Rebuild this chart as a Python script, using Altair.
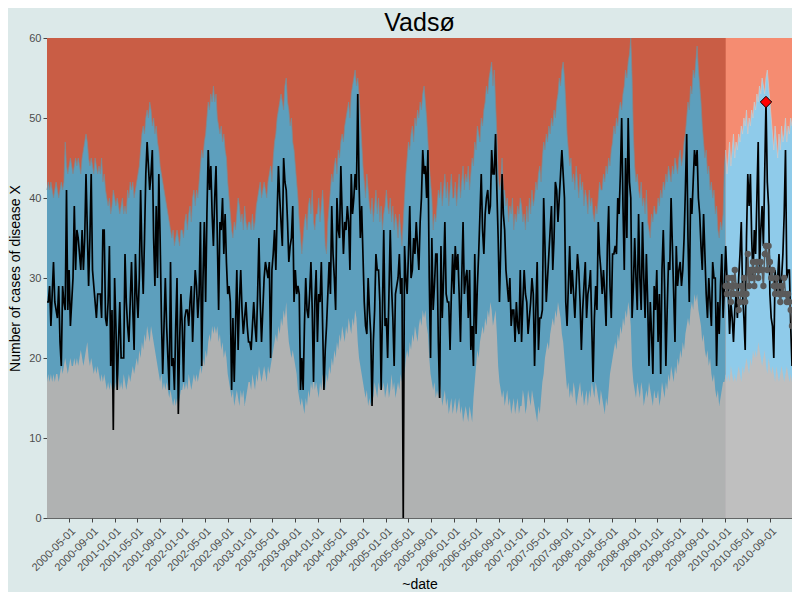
import altair as alt
import pandas as pd

# weekly counts, one line per year (2000 ... 2010)
cases = [
    27, 27, 29, 24, 28, 32, 27, 26, 25, 29, 22, 19, 29, 27, 26, 41, 26, 31, 24, 27, 30, 39, 31, 36, 35, 33, 31, 36, 31, 35, 43, 36, 29, 35, 43, 31, 29, 27, 25, 28, 28, 28, 25, 36, 36, 25, 24, 27, 34, 19, 26, 11,
    30, 24, 16, 22, 27, 20, 20, 20, 33, 27, 24, 22, 27, 32, 26, 21, 33, 28, 25, 30, 41, 33, 28, 35, 43, 47, 44, 41, 43, 46, 35, 29, 39, 30, 43, 35, 25, 18, 24, 30, 24, 20, 16, 32, 19, 20, 16, 24, 30, 13, 22, 28,
    24, 17, 25, 26, 26, 24, 27, 29, 22, 27, 31, 29, 25, 28, 37, 19, 30, 37, 27, 38, 46, 41, 44, 38, 34, 40, 44, 35, 26, 37, 36, 40, 33, 38, 32, 28, 29, 27, 16, 25, 17, 24, 31, 21, 27, 31, 26, 23, 25, 27, 24, 22,
    22, 21, 24, 27, 24, 22, 28, 35, 27, 22, 26, 30, 32, 31, 30, 32, 20, 31, 33, 36, 31, 38, 44, 40, 37, 34, 45, 42, 41, 37, 32, 34, 35, 39, 27, 31, 28, 29, 28, 16, 20, 16, 24, 30, 26, 25, 28, 32, 26, 17, 27, 31,
    22, 28, 27, 32, 24, 16, 21, 24, 28, 32, 28, 39, 33, 30, 26, 40, 36, 35, 44, 38, 33, 37, 36, 39, 37, 31, 43, 38, 40, 43, 41, 53, 42, 35, 39, 33, 27, 24, 23, 30, 26, 23, 14, 22, 26, 33, 31, 31, 27, 16, 26, 36, 24,
    25, 20, 28, 36, 29, 25, 19, 28, 29, 30, 33, 28, 30, 0, 34, 30, 28, 33, 39, 30, 31, 35, 33, 37, 34, 31, 37, 40, 46, 43, 44, 40, 46, 30, 20, 35, 26, 29, 33, 33, 22, 15, 34, 25, 30, 37, 28, 27, 27, 21, 28, 33,
    28, 34, 31, 33, 28, 22, 30, 37, 28, 30, 31, 25, 31, 21, 24, 19, 33, 23, 29, 33, 38, 43, 36, 33, 38, 40, 41, 38, 39, 46, 43, 43, 48, 41, 35, 27, 34, 43, 38, 36, 31, 29, 27, 30, 24, 26, 26, 22, 27, 24, 23, 31,
    22, 27, 31, 28, 27, 23, 25, 27, 30, 28, 19, 26, 32, 21, 25, 25, 26, 40, 34, 27, 30, 33, 36, 39, 31, 35, 42, 41, 37, 40, 43, 46, 43, 40, 27, 24, 29, 34, 28, 31, 28, 25, 29, 33, 31, 27, 21, 26, 29, 32, 25, 28,
    29, 31, 24, 17, 25, 29, 26, 37, 33, 31, 28, 31, 28, 24, 34, 39, 29, 25, 33, 33, 34, 33, 40, 38, 43, 50, 39, 31, 45, 35, 50, 42, 40, 25, 29, 35, 30, 26, 38, 30, 26, 37, 30, 25, 33, 27, 19, 27, 23, 18, 29, 26,
    31, 22, 28, 18, 31, 36, 29, 19, 26, 32, 31, 40, 34, 28, 22, 34, 29, 31, 32, 29, 31, 35, 41, 48, 35, 27, 40, 38, 42, 46, 44, 46, 40, 38, 34, 31, 38, 33, 28, 25, 30, 27, 24, 32, 30, 30, 19, 27, 23, 29, 33, 25,
    29, 34, 30, 28, 23, 27, 25, 22, 26, 28, 25, 30, 33, 37, 28, 25, 21, 35, 43, 39, 43, 35, 30, 36, 33, 40, 47, 31, 36, 39, 34, 43, 52, 42, 39, 28, 25, 24, 20, 31, 28, 30, 33, 27, 30, 33, 38, 46, 30, 31, 31, 24, 19,
]

# upper threshold (top of the blue band)
upper = [
    41, 42, 41, 42, 41, 40, 41, 42, 41, 40, 41, 42, 41, 42, 47, 44, 43, 44, 45, 44, 43, 44, 45, 44, 45, 44, 43, 45, 46, 47, 48, 47, 45, 44, 45, 44, 43, 45, 44, 43, 44, 43, 45, 42, 43, 41, 40, 39, 40, 38, 39, 41,
    40, 39, 40, 39, 38, 39, 40, 38, 39, 38, 41, 40, 42, 41, 42, 40, 41, 42, 43, 44, 46, 48, 49, 48, 50, 51, 50, 52, 51, 49, 50, 48, 49, 47, 46, 44, 43, 42, 41, 40, 39, 38, 37, 36, 35, 36, 34, 35, 36, 35, 34, 36,
    36, 35, 37, 38, 36, 38, 39, 37, 40, 41, 39, 41, 40, 42, 44, 46, 45, 47, 48, 50, 52, 51, 53, 52, 54, 52, 53, 50, 49, 48, 49, 47, 48, 46, 45, 42, 40, 38, 36, 35, 37, 36, 38, 40, 39, 37, 38, 36, 39, 37, 36, 37,
    37, 36, 38, 36, 37, 39, 40, 41, 42, 40, 41, 42, 41, 40, 42, 43, 44, 42, 45, 47, 48, 50, 51, 52, 53, 52, 51, 54, 55, 52, 51, 49, 50, 47, 46, 44, 42, 40, 37, 35, 33, 35, 37, 38, 36, 39, 40, 38, 41, 37, 36, 38,
    38, 40, 37, 39, 41, 38, 34, 33, 37, 39, 41, 43, 42, 44, 45, 43, 46, 45, 47, 48, 47, 49, 50, 51, 52, 50, 53, 54, 55, 56, 54, 55, 53, 50, 47, 44, 42, 40, 43, 41, 39, 38, 40, 37, 39, 41, 38, 40, 37, 39, 36, 38, 39,
    41, 39, 38, 40, 37, 39, 36, 38, 37, 35, 38, 36, 34, 37, 40, 43, 45, 47, 46, 48, 49, 47, 50, 49, 51, 50, 52, 51, 53, 54, 52, 50, 47, 44, 42, 40, 36, 38, 37, 39, 41, 40, 42, 39, 41, 43, 40, 42, 39, 41, 43, 40,
    40, 42, 39, 41, 43, 40, 42, 44, 41, 43, 42, 44, 41, 43, 45, 44, 47, 46, 49, 48, 47, 50, 49, 51, 52, 54, 53, 55, 56, 57, 54, 56, 52, 48, 43, 41, 42, 45, 41, 41, 39, 40, 37, 39, 38, 40, 36, 38, 37, 39, 38, 40,
    39, 37, 38, 36, 39, 37, 40, 38, 41, 39, 40, 42, 41, 43, 44, 42, 45, 47, 46, 48, 47, 49, 48, 50, 49, 51, 50, 52, 53, 55, 54, 56, 57, 55, 52, 48, 46, 44, 45, 42, 43, 41, 44, 42, 40, 43, 41, 42, 39, 41, 40, 38,
    41, 39, 40, 38, 37, 39, 38, 40, 42, 41, 41, 43, 42, 44, 43, 45, 44, 46, 47, 49, 48, 50, 49, 51, 52, 51, 53, 54, 56, 55, 57, 58, 60, 55, 48, 44, 42, 43, 41, 40, 42, 39, 40, 38, 41, 37, 36, 35, 38, 37, 39, 38,
    38, 40, 39, 41, 40, 42, 41, 43, 42, 44, 43, 42, 44, 43, 45, 44, 43, 45, 46, 44, 45, 47, 48, 50, 52, 51, 54, 53, 56, 55, 57, 59, 56, 54, 52, 49, 47, 45, 46, 43, 44, 41, 42, 40, 41, 38, 39, 36, 35, 37, 36, 38,
    44, 46, 43, 45, 47, 44, 46, 48, 45, 47, 46, 48, 47, 49, 48, 50, 49, 51, 48, 50, 49, 51, 50, 52, 51, 53, 52, 54, 53, 55, 54, 53, 55, 56, 54, 52, 50, 48, 46, 49, 47, 45, 48, 46, 49, 47, 48, 50, 47, 49, 48, 50, 49,
]

# lower threshold (top of the grey band)
lower = [
    17, 18, 17, 18, 17, 18, 17, 18, 18, 17, 18, 19, 18, 19, 20, 19, 18, 19, 20, 19, 19, 20, 19, 20, 19, 20, 21, 20, 19, 20, 21, 22, 20, 19, 20, 19, 18, 19, 18, 19, 18, 17, 18, 17, 18, 17, 16, 17, 16, 17, 16, 17,
    16, 17, 16, 18, 16, 17, 16, 18, 17, 16, 17, 18, 17, 18, 19, 18, 19, 20, 19, 21, 20, 22, 21, 23, 22, 24, 23, 22, 24, 23, 22, 21, 20, 19, 18, 17, 18, 16, 17, 16, 17, 16, 15, 16, 15, 14, 15, 14, 15, 14, 15, 16,
    16, 17, 16, 17, 16, 18, 17, 16, 17, 18, 17, 18, 17, 18, 19, 18, 20, 19, 21, 20, 22, 23, 22, 24, 23, 24, 23, 24, 22, 23, 21, 22, 20, 21, 20, 18, 17, 16, 15, 16, 14, 15, 16, 15, 14, 16, 15, 16, 14, 15, 16, 17,
    17, 16, 18, 17, 16, 18, 17, 19, 18, 17, 18, 19, 18, 17, 19, 18, 19, 20, 21, 22, 23, 22, 24, 23, 25, 24, 26, 25, 27, 24, 22, 21, 20, 21, 20, 19, 18, 16, 15, 14, 15, 14, 13, 15, 14, 16, 15, 17, 16, 18, 16, 17,
    16, 15, 17, 16, 18, 17, 16, 18, 17, 19, 18, 20, 19, 21, 20, 22, 21, 23, 22, 24, 23, 22, 24, 23, 25, 24, 23, 25, 24, 26, 25, 22, 20, 19, 18, 17, 16, 15, 16, 14, 15, 14, 16, 15, 17, 16, 15, 17, 16, 18, 16, 17, 15,
    16, 17, 15, 16, 18, 16, 17, 15, 16, 17, 16, 18, 17, 19, 18, 20, 21, 20, 22, 21, 23, 22, 24, 23, 22, 24, 25, 24, 26, 25, 26, 24, 23, 20, 18, 17, 16, 17, 15, 16, 15, 17, 16, 14, 15, 16, 14, 15, 13, 14, 15, 13,
    14, 15, 13, 14, 15, 13, 14, 12, 13, 14, 13, 12, 14, 13, 12, 15, 17, 19, 21, 20, 22, 23, 24, 23, 25, 24, 26, 25, 27, 26, 24, 25, 26, 23, 19, 17, 16, 15, 16, 14, 15, 16, 14, 15, 13, 14, 15, 13, 14, 15, 13, 14,
    14, 16, 15, 13, 14, 16, 15, 14, 16, 15, 14, 13, 12, 14, 13, 15, 17, 18, 20, 21, 22, 21, 23, 24, 25, 24, 26, 25, 27, 26, 25, 23, 22, 20, 18, 16, 17, 15, 16, 15, 17, 16, 14, 15, 16, 17, 15, 16, 14, 15, 16, 14,
    16, 15, 17, 16, 15, 17, 16, 15, 14, 16, 15, 14, 13, 15, 14, 16, 18, 19, 20, 21, 22, 21, 23, 22, 24, 23, 25, 24, 26, 25, 27, 26, 24, 19, 17, 16, 15, 17, 16, 15, 17, 16, 14, 15, 16, 15, 17, 16, 15, 14, 16, 15,
    15, 16, 14, 15, 17, 16, 15, 17, 16, 18, 17, 19, 18, 17, 19, 18, 20, 19, 21, 20, 22, 21, 23, 24, 25, 24, 26, 27, 26, 28, 27, 28, 26, 25, 24, 22, 23, 21, 20, 21, 19, 20, 18, 17, 18, 16, 15, 16, 14, 15, 16, 17,
    17, 18, 17, 18, 17, 19, 18, 17, 18, 17, 18, 19, 18, 17, 19, 18, 19, 20, 19, 18, 20, 19, 21, 20, 21, 20, 22, 21, 20, 19, 20, 21, 19, 18, 20, 19, 18, 19, 18, 17, 19, 18, 17, 18, 19, 18, 17, 18, 19, 18, 17, 18, 17,
]

# expected counts for the current year (grey dots), weeks of 2010
baseline_2010 = [
    29, 28, 30, 29, 27, 30, 28, 31, 29, 28, 26, 27, 29, 28, 30, 27, 28, 33, 29, 31, 30, 32, 29, 31, 32, 30,
    31, 32, 31, 29, 33, 34, 31, 34, 32, 30, 31, 29, 28, 30, 29, 28, 27, 29, 28, 30, 28, 27, 28, 27, 26, 24,
]

alert_dates = ["2010-08-09"]

tick_dates = [
    "2000-05-01", "2000-09-01", "2001-01-01", "2001-05-01", "2001-09-01", "2002-01-01", "2002-05-01", "2002-09-01",
    "2003-01-01", "2003-05-01", "2003-09-01", "2004-01-01", "2004-05-01", "2004-09-01", "2005-01-01", "2005-05-01",
    "2005-09-01", "2006-01-01", "2006-05-01", "2006-09-01", "2007-01-01", "2007-05-01", "2007-09-01", "2008-01-01",
    "2008-05-01", "2008-09-01", "2009-01-01", "2009-05-01", "2009-09-01", "2010-01-01", "2010-05-01", "2010-09-01",
]

FONT = "Liberation Sans"

df = pd.DataFrame({
    "date": pd.date_range("2000-01-03", periods=len(cases), freq="7D"),
    "cases": cases,
    "upper": upper,
    "lower": lower,
})
cur = df[df["date"] >= "2010-01-01"].copy()
cur["baseline"] = baseline_2010
alerts = df[df["date"].isin(pd.to_datetime(alert_dates))]

ticks = [pd.Timestamp(t) for t in tick_dates]
x_enc = alt.X(
    "date:T",
    title="~date",
    axis=alt.Axis(
        values=[alt.DateTime(year=t.year, month=t.month, date=t.day) for t in ticks],
        format="%Y-%m-%d", labelAngle=-45, labelAlign="right", labelBaseline="top",
        labelPadding=3, titlePadding=5, labelOverlap=False, labelFlush=False,
    ),
)
y_axis = alt.Axis(values=[0, 10, 20, 30, 40, 50, 60], titlePadding=6)
y_scale = alt.Scale(domain=[0, 60], nice=False)
Y_TITLE = "Number of cases of disease X"


def bands(data, red, blue, grey):
    base = alt.Chart(data)
    r = base.mark_area(color=red, opacity=1).encode(
        x=x_enc, y=alt.Y(datum=60, scale=y_scale, axis=y_axis, title=Y_TITLE))
    b = base.mark_area(color=blue, opacity=1).encode(
        x=x_enc, y=alt.Y("upper:Q", scale=y_scale, axis=y_axis, title=Y_TITLE))
    g = base.mark_area(color=grey, opacity=1).encode(
        x=x_enc, y=alt.Y("lower:Q", scale=y_scale, axis=y_axis, title=Y_TITLE))
    return [r, b, g]


past_layers = bands(df, "#c95d45", "#5d9fbd", "#b0b2b2")
cur_layers = bands(cur, "#f58c71", "#8fcbea", "#bfbfbf")

edge_past = alt.Chart(df).mark_line(color="#7d8a91", strokeWidth=0.8, opacity=0.9).encode(
    x=x_enc, y=alt.Y("upper:Q", scale=y_scale, axis=y_axis, title=Y_TITLE))
edge_cur = alt.Chart(cur).mark_line(color="#c9cdd0", strokeWidth=0.8, opacity=0.9).encode(
    x=x_enc, y=alt.Y("upper:Q", scale=y_scale, axis=y_axis, title=Y_TITLE))

observed = alt.Chart(df).mark_line(color="black", strokeWidth=1.7).encode(
    x=x_enc, y=alt.Y("cases:Q", scale=y_scale, axis=y_axis, title=Y_TITLE))

expected_line = alt.Chart(cur).mark_line(color="#5a5a5a", strokeWidth=1.5).encode(
    x=x_enc, y=alt.Y("baseline:Q", scale=y_scale, axis=y_axis, title=Y_TITLE))
expected_pts = alt.Chart(cur).mark_circle(color="#5a5a5a", size=40, opacity=1).encode(
    x=x_enc, y=alt.Y("baseline:Q", scale=y_scale, axis=y_axis, title=Y_TITLE))

alert_pts = alt.Chart(alerts).mark_point(
    shape="diamond", filled=True, fill="#ff0000", stroke="black", strokeWidth=1, size=130, opacity=1
).encode(x=x_enc, y=alt.Y("cases:Q", scale=y_scale, axis=y_axis, title=Y_TITLE))

chart = alt.layer(
    *past_layers, edge_past, *cur_layers, edge_cur,
    observed, expected_line, expected_pts, alert_pts,
).properties(
    width=745,
    height=480,
    background="#dce9e9",
    padding={"left": 39, "top": 30, "right": 0, "bottom": 74},
    autosize=alt.AutoSizeParams(type="none"),
    title=alt.Title("Vadsø", fontSize=25, font=FONT, fontWeight="normal", color="black", anchor="middle", offset=-4),
).configure_view(
    stroke=None
).configure_axis(
    grid=False,
    labelFont=FONT,
    titleFont=FONT,
    labelFontSize=11,
    titleFontSize=14,
    titleFontWeight="normal",
    labelColor="#4d4d4d",
    titleColor="black",
    tickColor="#444444",
    tickSize=4,
    domainColor="#444444",
    domainWidth=0.8,
)

chart.save("out.html", embed_options={"renderer": "svg", "actions": False})
